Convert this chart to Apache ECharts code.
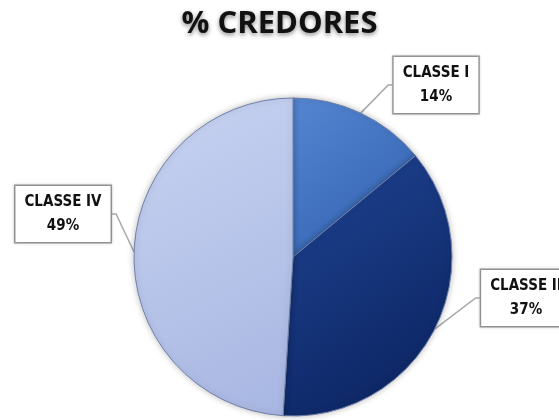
<!DOCTYPE html>
<html lang="pt">
<head>
    <meta charset="UTF-8">
    <title>% CREDORES</title>
    <script src="https://cdn.jsdelivr.net/npm/echarts@6/dist/echarts.min.js"></script>
    <style>
        html, body { margin: 0; padding: 0; background: #fff; }
        #chart { width: 559px; height: 420px; }
    </style>
</head>
<body>
    <div id="chart"></div>
    <script>
        var categories = ['CLASSE I', 'CLASSE II', 'CLASSE IV'];
        var percents = [14, 37, 49];

        // cores de cada fatia (topo, base do gradiente)
        var sliceColors = [
            ['#5586d2', '#2f5fad'],
            ['#1f4493', '#0a215c'],
            ['#c8d3f1', '#a7b6e2']
        ];
        // posição das caixas de rótulo (centro)
        var boxPos = [[436, 85], [526, 298], [63, 214]];

        var chart = echarts.init(document.getElementById('chart'));
        var font = '"Liberation Sans Narrow", "Arial Narrow", "DejaVu Sans Condensed", sans-serif';

        var data = categories.map(function (name, i) {
            return {
                name: name,
                value: percents[i],
                itemStyle: {
                    color: new echarts.graphic.LinearGradient(0, 0, 1, 1, [
                        { offset: 0, color: sliceColors[i][0] },
                        { offset: 1, color: sliceColors[i][1] }
                    ])
                }
            };
        });

        chart.setOption({
            backgroundColor: '#fff',
            animation: false,
            title: {
                text: '% CREDORES',
                left: 'center',
                top: 4,
                textStyle: {
                    fontFamily: '"Open Sans", sans-serif',
                    fontSize: 31,
                    fontWeight: 'bold',
                    color: '#111',
                    textShadowColor: 'rgba(0,0,0,0.45)',
                    textShadowBlur: 4,
                    textShadowOffsetY: 2
                }
            },
            series: [{
                type: 'pie',
                center: [293, 257],
                radius: 159,
                startAngle: 90,
                clockwise: true,
                data: data,
                itemStyle: {
                    borderColor: '#6f80a8',
                    borderWidth: 1,
                    shadowColor: 'rgba(0,0,0,0.25)',
                    shadowBlur: 6
                },
                label: {
                    show: true,
                    formatter: '{b}\n{c}%',
                    fontFamily: font,
                    fontSize: 15,
                    fontWeight: 'bold',
                    color: '#111',
                    lineHeight: 24,
                    align: 'center',
                    overflow: 'none',
                    backgroundColor: '#fff',
                    borderColor: '#9a9a9a',
                    borderWidth: 1.5,
                    padding: [5, 9, 3, 9],
                    shadowColor: 'rgba(0,0,0,0.15)',
                    shadowBlur: 3
                },
                labelLine: {
                    show: true,
                    length: 8,
                    length2: 4,
                    lineStyle: { color: '#a8a8a8', width: 1.5 }
                },
                labelLayout: function (p) {
                    var pos = boxPos[p.dataIndex];
                    return {
                        x: pos[0],
                        y: pos[1],
                        align: 'center',
                        verticalAlign: 'middle'
                    };
                }
            }]
        });
    </script>
</body>
</html>
